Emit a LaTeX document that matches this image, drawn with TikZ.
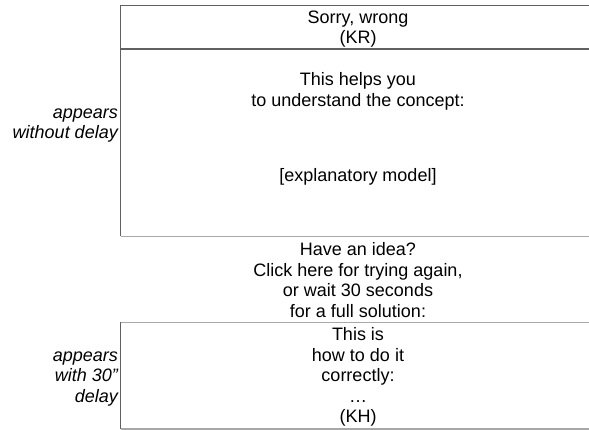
\documentclass[tikz,border=0pt]{standalone}
\usepackage{fontspec}
\setmainfont{Liberation Sans}
\definecolor{darkline}{HTML}{606060}
\definecolor{lightline}{HTML}{A8A8A8}
\begin{document}
\begin{tikzpicture}[x=1pt,y=-1pt,
  txt/.style={align=center,inner sep=0pt,font=\fontsize{18}{20.5}\selectfont},
  lbl/.style={align=right,inner sep=0pt,anchor=east,font=\fontsize{18}{20.5}\selectfont\itshape},
  dline/.style={draw=darkline,line width=1.1pt},
  lline/.style={draw=lightline,line width=1.6pt}]
\useasboundingbox (0,0) rectangle (589,430);
% box 1
\coordinate (b1tl) at (120.5,5.5);
\coordinate (b1tr) at (592,5.5);
\coordinate (b1ml) at (120.5,49);
\coordinate (b1mr) at (592,49);
\coordinate (b1bl) at (120.5,236.5);
\coordinate (b1br) at (592,236.5);
\draw[dline] (b1tr) -- (b1tl) -- (b1bl);
\draw[dline] (b1ml) -- (b1mr);
\draw[lline] (b1bl) -- (b1br);
% box 2
\coordinate (b2tl) at (120.5,322.5);
\coordinate (b2tr) at (592,322.5);
\coordinate (b2bl) at (120.5,429.2);
\coordinate (b2br) at (592,429.2);
\draw[lline] (b2tl) -- (b2tr);
\draw[dline] (b2tl) -- (b2bl);
\draw[lline] (b2bl) -- (b2br);
% texts
\node[txt] (kr) at (358,29) {Sorry, wrong\\(KR)};
\node[txt] (helps) at (358,91.5) {This helps you\\to understand the concept:};
\node[txt] (model) at (358,177) {[explanatory model]};
\node[txt] (idea) at (358,280) {Have an idea?\\Click here for trying again,\\or wait 30 seconds\\for a full solution:};
\node[txt] (kh) at (358,377) {This is\\how to do it\\correctly:\\\dots\\(KH)};
\node[lbl] (l1) at (118,125.5) {appears\\without delay};
\node[lbl] (l2) at (118,379) {appears\\with 30”\\delay};
\end{tikzpicture}
\end{document}
